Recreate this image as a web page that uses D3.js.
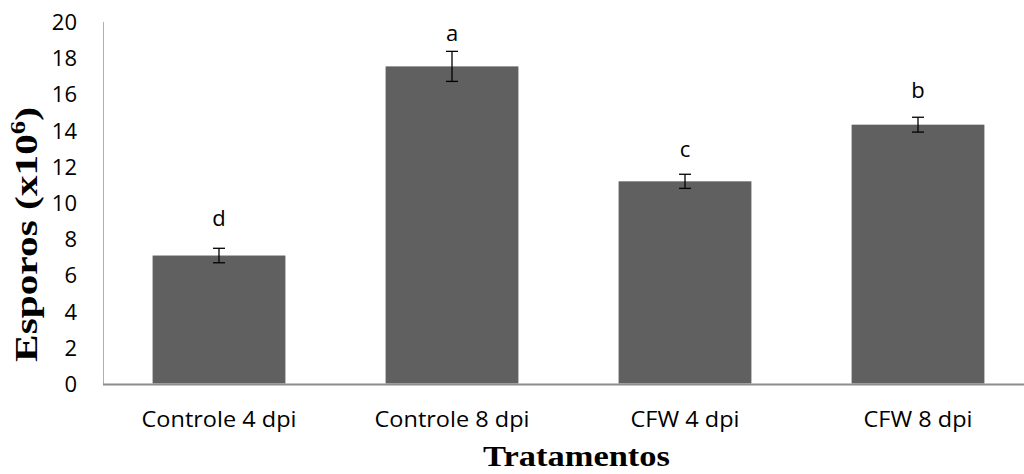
<!DOCTYPE html>
<html>
<head>
<meta charset="utf-8">
<script src="https://cdn.jsdelivr.net/npm/d3@7"></script>
<style>
  html, body { margin: 0; padding: 0; background: #fff; }
  svg { display: block; }
</style>
</head>
<body>
<svg id="chart" width="1024" height="474"></svg>
<script>
// ---- data ----
const categories = ["Controle 4 dpi", "Controle 8 dpi", "CFW 4 dpi", "CFW 8 dpi"];
const values = [7.07, 17.52, 11.17, 14.3];
const errors = [0.4, 0.83, 0.39, 0.41];
const letters = ["d", "a", "c", "b"];
const yTicks = [0, 2, 4, 6, 8, 10, 12, 14, 16, 18, 20];
const xTitle = "Tratamentos";
const yTitleMain = "Esporos (x10";
const yTitleSup = "6";
const yTitleEnd = ")";

// ---- layout ----
const svg = d3.select("#chart");
const sansFont = "'Open Sans', 'DejaVu Sans', sans-serif";
const serifFont = "'Liberation Serif', 'DejaVu Serif', serif";
const letterGap = [30, 18, 25, 27];
const labelSize = 22;

const x = d3.scaleBand()
  .domain(categories)
  .range([102.5, 1034.5])
  .paddingInner(0.43)
  .paddingOuter(0.215);

const y = d3.scaleLinear()
  .domain([0, 20])
  .range([383.5, 21.5]);

// bars
svg.append("g").selectAll("rect")
  .data(categories)
  .join("rect")
  .attr("x", d => x(d))
  .attr("y", (d, i) => y(values[i]))
  .attr("width", x.bandwidth())
  .attr("height", (d, i) => y(0) - y(values[i]))
  .attr("fill", "#606060");

// y axis
const yAxis = svg.append("g")
  .attr("transform", "translate(103,0)")
  .call(d3.axisLeft(y).tickValues(yTicks).tickSize(0).tickSizeOuter(0).tickPadding(26));
yAxis.select(".domain").attr("stroke", "#b0b0b0").attr("stroke-width", 1);
yAxis.selectAll(".tick text")
  .attr("font-family", sansFont)
  .attr("font-size", labelSize)
  .attr("fill", "#000")
  .attr("dy", "0.36em");

// x axis
const xAxis = svg.append("g")
  .attr("transform", "translate(0,384)")
  .call(d3.axisBottom(x).tickSize(0).tickSizeOuter(0).tickPadding(0));
xAxis.select(".domain").attr("stroke", "#8c8c8c").attr("stroke-width", 2);
const xLabels = xAxis.selectAll(".tick text")
  .attr("font-family", sansFont)
  .attr("font-size", labelSize)
  .attr("fill", "#000")
  .attr("dy", null)
  .attr("y", 0);
const kx = 155 / xLabels.node().getComputedTextLength();
xLabels.attr("transform", `translate(0,43) scale(${kx},1)`);

// error bars
const eg = svg.append("g").attr("stroke", "#000").attr("stroke-width", 1.3);
categories.forEach((c, i) => {
  const cx = x(c) + x.bandwidth() / 2;
  const top = y(values[i] + errors[i]);
  const bot = y(values[i] - errors[i]);
  eg.append("line").attr("x1", cx).attr("x2", cx).attr("y1", top).attr("y2", bot);
  eg.append("line").attr("x1", cx - 6).attr("x2", cx + 6).attr("y1", top).attr("y2", top);
  eg.append("line").attr("x1", cx - 6).attr("x2", cx + 6).attr("y1", bot).attr("y2", bot);
});

// letters
svg.append("g").selectAll("text")
  .data(categories)
  .join("text")
  .attr("x", d => x(d) + x.bandwidth() / 2)
  .attr("y", (d, i) => y(values[i] + errors[i]) - letterGap[i])
  .attr("dy", "0.36em")
  .attr("text-anchor", "middle")
  .attr("font-family", sansFont)
  .attr("font-size", labelSize)
  .attr("fill", "#000")
  .text((d, i) => letters[i]);

// x title
const xt = svg.append("text")
  .attr("text-anchor", "middle")
  .attr("font-family", serifFont)
  .attr("font-weight", "bold")
  .attr("font-size", 30)
  .attr("fill", "#000")
  .text(xTitle);
const xw = xt.node().getComputedTextLength();
xt.attr("transform", `translate(576.5,466) scale(${187 / xw},1)`);

// y title
const yt = svg.append("text")
  .attr("text-anchor", "middle")
  .attr("font-family", serifFont)
  .attr("font-weight", "bold")
  .attr("font-size", 31)
  .attr("fill", "#000");
yt.append("tspan").text(yTitleMain);
yt.append("tspan").attr("font-size", 20).attr("dy", -12).text(yTitleSup);
yt.append("tspan").attr("dy", 12).text(yTitleEnd);
const yw = yt.node().getBBox().width;
yt.attr("transform", `translate(37,234.5) rotate(-90) scale(${255 / yw},1)`);
</script>
</body>
</html>
